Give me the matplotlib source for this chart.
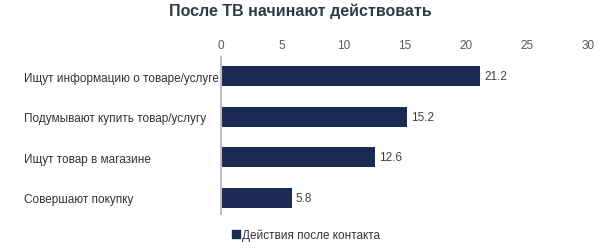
import matplotlib
matplotlib.use("Agg")
import matplotlib.pyplot as plt
from matplotlib.patches import Patch

plt.rcParams['font.family'] = ['Liberation Sans', 'DejaVu Sans']

categories = ["Ищут информацию о товаре/услуге",
              "Подумывают купить товар/услугу",
              "Ищут товар в магазине",
              "Совершают покупку"]
values = [21.2, 15.2, 12.6, 5.8]
xticks = [0, 5, 10, 15, 20, 25, 30]
series_name = "Действия после контакта"

bar_color = "#1b2a52"

fig = plt.figure(figsize=(6, 2.53), dpi=100)
ax = fig.add_axes([0.3683, 0.150, 0.6117, 0.6208])

pos = list(range(len(categories)))
ax.barh(pos, values, height=0.5, color=bar_color)
for p, v in zip(pos, values):
    ax.text(v + 0.33, p, f"{v:.1f}", va='center', ha='left', fontsize=8.5, color="#404040")

ax.set_xlim(0, 30)
ax.set_ylim(3.4, -0.47)
ax.set_xticks(xticks)
ax.set_xticklabels([str(t) for t in xticks])
ax.xaxis.tick_top()
ax.tick_params(axis='x', length=0, pad=4.5, labelsize=8.5, labelcolor="#595959")
ax.set_yticks(pos)
ax.set_yticklabels(categories)
ax.tick_params(axis='y', length=0, pad=142, labelsize=8.5, labelcolor="#333333")
for lab in ax.get_yticklabels():
    lab.set_horizontalalignment('left')

for s in ['top', 'right', 'bottom']:
    ax.spines[s].set_visible(False)
ax.spines['left'].set_color("#bfbfbf")
ax.spines['left'].set_linewidth(1.5)

fig.suptitle("После ТВ начинают действовать", x=0.5, y=0.985, fontsize=11.5,
             fontweight='bold', color="#333a45")

fig.legend(handles=[Patch(color=bar_color, label=series_name)],
           loc='center', bbox_to_anchor=(0.51, 0.068), frameon=False,
           fontsize=8.5, handlelength=0.7, handleheight=0.7, handletextpad=0.2,
           labelcolor="#333333")

fig.savefig("out.png", dpi=100)
